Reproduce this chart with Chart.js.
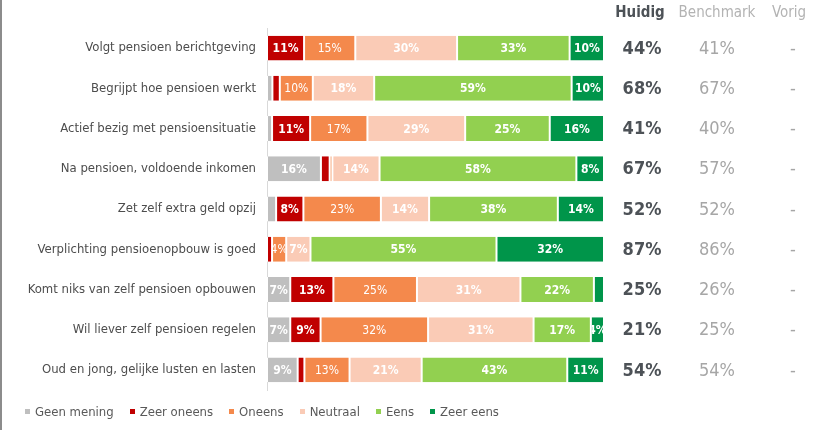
<!DOCTYPE html>
<html>
<head>
  <title>Pensioen stellingen</title>
  <script src="https://cdn.jsdelivr.net/npm/chart.js"></script>
  <style>
    html, body {
      margin: 0;
      padding: 0;
      overflow: hidden;
      background-color: white;
      font-family: 'DejaVu Sans Condensed', sans-serif;
    }

    .container {
      position: relative;
      width: 828px;
      height: 430px;
      overflow: hidden;
    }

    canvas {
      display: block;
    }

    .legend-container {
      position: absolute;
      left: 25px;
      top: 404px;
      display: flex;
      font-size: 13px;
      color: #595959;
    }

    .legend-item {
      display: flex;
      align-items: center;
      margin-right: 16px;
    }

    .legend-color {
      width: 5px;
      height: 5px;
      margin-right: 5px;
    }
  </style>
</head>
<body>
  <div class="container">
    <canvas id="stellingenChart" width="828" height="430"></canvas>
    <div class="legend-container" id="legendContainer"></div>
  </div>

  <script>
    // Stellingen (categorieen)
    const categories = [
      'Volgt pensioen berichtgeving',
      'Begrijpt hoe pensioen werkt',
      'Actief bezig met pensioensituatie',
      'Na pensioen, voldoende inkomen',
      'Zet zelf extra geld opzij',
      'Verplichting pensioenopbouw is goed',
      'Komt niks van zelf pensioen opbouwen',
      'Wil liever zelf pensioen regelen',
      'Oud en jong, gelijke lusten en lasten'
    ];

    // Antwoordverdeling in procenten
    const geenMening = [0, 1.6, 1.5, 16.0, 2.7, 0, 6.9, 6.9, 9.1];
    const zeerOneens = [11.0, 2.2, 11.3, 2.6, 8.1, 1.5, 12.8, 9.0, 2.0];
    const oneens = [15.2, 9.8, 17.0, 0.8, 23.0, 4.2, 24.8, 31.9, 13.4];
    const neutraal = [30.2, 18.2, 29.0, 14.0, 14.3, 7.2, 30.7, 31.3, 21.4];
    const eens = [33.4, 58.6, 25.1, 58.4, 38.2, 55.2, 21.8, 17.0, 43.2];
    const zeerEens = [10.2, 9.6, 16.1, 8.2, 13.7, 31.9, 3.0, 3.9, 10.9];

    // Kolommen rechts
    const huidig = ['44%', '68%', '41%', '67%', '52%', '87%', '25%', '21%', '54%'];
    const benchmark = ['41%', '67%', '40%', '57%', '52%', '86%', '26%', '25%', '54%'];
    const vorig = ['-', '-', '-', '-', '-', '-', '-', '-', '-'];

    const seriesNames = ['Geen mening', 'Zeer oneens', 'Oneens', 'Neutraal', 'Eens', 'Zeer eens'];
    const seriesData = [geenMening, zeerOneens, oneens, neutraal, eens, zeerEens];
    const seriesColors = ['#BFBFBF', '#C00000', '#F4894C', '#FACBB6', '#92D050', '#00954A'];

    const fontFamily = "'DejaVu Sans Condensed', sans-serif";

    const datasets = seriesNames.map((name, i) => ({
      label: name,
      data: seriesData[i],
      backgroundColor: seriesColors[i],
      borderColor: '#ffffff',
      borderWidth: { top: 0, bottom: 0, left: 1, right: 1 },
      borderSkipped: false,
      barPercentage: 0.62,
      categoryPercentage: 1
    }));

    // Grijze lijn links
    const frameLine = {
      id: 'frameLine',
      beforeDraw(chart) {
        const ctx = chart.ctx;
        ctx.save();
        ctx.fillStyle = '#8c8c8c';
        ctx.fillRect(0, 0, 2, chart.height);
        ctx.restore();
      }
    };

    // Percentages in de balken
    const barLabels = {
      id: 'barLabels',
      afterDatasetsDraw(chart) {
        const ctx = chart.ctx;
        chart.data.datasets.forEach((ds, di) => {
          const meta = chart.getDatasetMeta(di);
          meta.data.forEach((bar, i) => {
            const v = Math.round(ds.data[i]);
            if (v < 4) return;
            const left = Math.min(bar.base, bar.x);
            const w = Math.abs(bar.x - bar.base);
            ctx.save();
            ctx.beginPath();
            ctx.rect(left + 1, bar.y - bar.height / 2, w - 2, bar.height);
            ctx.clip();
            ctx.fillStyle = '#ffffff';
            ctx.font = (di === 2 ? 'normal ' : 'bold ') + '12px ' + fontFamily;
            ctx.textAlign = 'center';
            ctx.textBaseline = 'middle';
            ctx.fillText(v + '%', left + w / 2, bar.y + 1);
            ctx.restore();
          });
        });
      }
    };

    // Huidig / Benchmark / Vorig kolommen
    const sideColumns = {
      id: 'sideColumns',
      afterDraw(chart) {
        const ctx = chart.ctx;
        const y = chart.scales.y;
        const cols = [
          { x: 640, vx: 642, head: 'Huidig', values: huidig, color: '#4d5257', weight: 'bold', headColor: '#4d5257' },
          { x: 717, vx: 717, head: 'Benchmark', values: benchmark, color: '#a6a6a6', weight: 'normal', headColor: '#b3b3b3' },
          { x: 789, vx: 793, head: 'Vorig', values: vorig, color: '#a6a6a6', weight: 'normal', headColor: '#b3b3b3' }
        ];
        ctx.save();
        ctx.textAlign = 'center';
        ctx.textBaseline = 'middle';
        cols.forEach(col => {
          ctx.font = col.weight + ' 15px ' + fontFamily;
          ctx.fillStyle = col.headColor;
          ctx.fillText(col.head, col.x, 13);
          ctx.font = col.weight + ' 18px ' + fontFamily;
          ctx.fillStyle = col.color;
          col.values.forEach((val, i) => {
            ctx.fillText(val, col.vx, y.getPixelForValue(i) + 1);
          });
        });
        ctx.restore();
      }
    };

    const ctx = document.getElementById('stellingenChart').getContext('2d');

    new Chart(ctx, {
      type: 'bar',
      data: {
        labels: categories,
        datasets: datasets
      },
      options: {
        indexAxis: 'y',
        responsive: false,
        animation: false,
        layout: {
          padding: { top: 28, right: 224, bottom: 40, left: 0 }
        },
        scales: {
          x: {
            stacked: true,
            min: 0,
            max: 100,
            display: false
          },
          y: {
            stacked: true,
            afterFit(scale) {
              scale.width = 267;
            },
            grid: {
              display: false,
              drawTicks: false
            },
            border: {
              display: true,
              color: '#d9d9d9',
              width: 1
            },
            ticks: {
              padding: 11,
              color: '#4d4d4d',
              font: { family: fontFamily, size: 13 }
            }
          }
        },
        plugins: {
          legend: { display: false },
          tooltip: { enabled: false }
        }
      },
      plugins: [frameLine, barLabels, sideColumns]
    });

    // Legenda
    const legendContainer = document.getElementById('legendContainer');
    seriesNames.forEach((name, i) => {
      const item = document.createElement('div');
      item.className = 'legend-item';
      const box = document.createElement('div');
      box.className = 'legend-color';
      box.style.backgroundColor = seriesColors[i];
      const label = document.createElement('span');
      label.textContent = name;
      item.appendChild(box);
      item.appendChild(label);
      legendContainer.appendChild(item);
    });
  </script>
</body>
</html>
